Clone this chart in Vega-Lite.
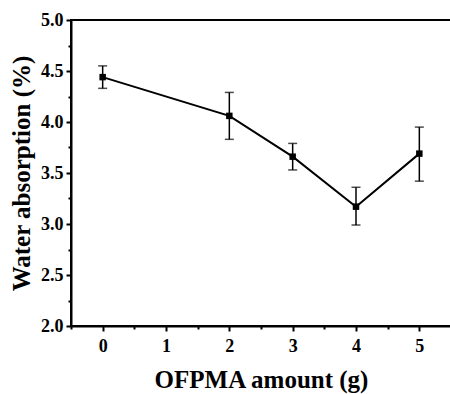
{
  "$schema": "https://vega.github.io/schema/vega-lite/v6.json",
  "width": 380,
  "height": 306,
  "autosize": {"type": "none"},
  "padding": {"left": 71, "top": 20, "right": 0, "bottom": 68},
  "background": "white",
  "config": {
    "view": {"stroke": "black", "strokeWidth": 2},
    "font": "'Liberation Serif', serif"
  },
  "data": {
    "values": [
      {"amount": 0, "wa": 4.44, "lo": 4.33, "hi": 4.55},
      {"amount": 2, "wa": 4.06, "lo": 3.83, "hi": 4.29},
      {"amount": 3, "wa": 3.66, "lo": 3.53, "hi": 3.79},
      {"amount": 4, "wa": 3.17, "lo": 2.99, "hi": 3.36},
      {"amount": 5, "wa": 3.69, "lo": 3.42, "hi": 3.95}
    ]
  },
  "encoding": {
    "x": {
      "field": "amount", "type": "quantitative",
      "scale": {"domain": [-0.5, 5.5], "nice": false, "zero": false},
      "axis": {
        "title": "OFPMA amount (g)",
        "titleFont": "'Liberation Serif', serif", "titleFontSize": 25, "titleFontWeight": "bold", "titleColor": "black", "titlePadding": 12,
        "values": [-0.5, 0, 0.5, 1, 1.5, 2, 2.5, 3, 3.5, 4, 4.5, 5, 5.5],
        "labelExpr": "datum.value % 1 === 0 ? format(datum.value, 'd') : ''",
        "labelFont": "'Liberation Serif', serif", "labelFontSize": 18, "labelFontWeight": "bold", "labelColor": "black", "labelPadding": 6,
        "domainColor": "black", "domainWidth": 2,
        "tickColor": "black", "tickWidth": 2,
        "tickSize": {"condition": {"test": "datum.value % 1 === 0", "value": 5}, "value": 3},
        "grid": false, "labelFlush": false
      }
    },
    "y": {
      "field": "wa", "type": "quantitative",
      "scale": {"domain": [2, 5], "nice": false, "zero": false},
      "axis": {
        "title": "Water absorption (%)",
        "titleFont": "'Liberation Serif', serif", "titleFontSize": 25, "titleFontWeight": "bold", "titleColor": "black", "titlePadding": 6,
        "values": [2, 2.25, 2.5, 2.75, 3, 3.25, 3.5, 3.75, 4, 4.25, 4.5, 4.75, 5],
        "labelExpr": "(datum.value * 2) % 1 === 0 ? format(datum.value, '.1f') : ''",
        "labelFont": "'Liberation Serif', serif", "labelFontSize": 18, "labelFontWeight": "bold", "labelColor": "black", "labelPadding": 3,
        "domainColor": "black", "domainWidth": 2,
        "tickColor": "black", "tickWidth": 2,
        "tickSize": {"condition": {"test": "(datum.value * 2) % 1 === 0", "value": 5}, "value": 3},
        "grid": false, "labelFlush": false
      }
    }
  },
  "layer": [
    {"mark": {"type": "line", "color": "black", "strokeWidth": 2}},
    {"mark": {"type": "rule", "color": "black", "strokeWidth": 1.5},
     "encoding": {"y": {"field": "lo", "type": "quantitative"}, "y2": {"field": "hi"}}},
    {"mark": {"type": "tick", "orient": "horizontal", "color": "black", "size": 9, "thickness": 1.5},
     "encoding": {"y": {"field": "lo", "type": "quantitative"}}},
    {"mark": {"type": "tick", "orient": "horizontal", "color": "black", "size": 9, "thickness": 1.5},
     "encoding": {"y": {"field": "hi", "type": "quantitative"}}},
    {"mark": {"type": "point", "shape": "square", "filled": true, "color": "black", "size": 42, "opacity": 1}}
  ]
}
